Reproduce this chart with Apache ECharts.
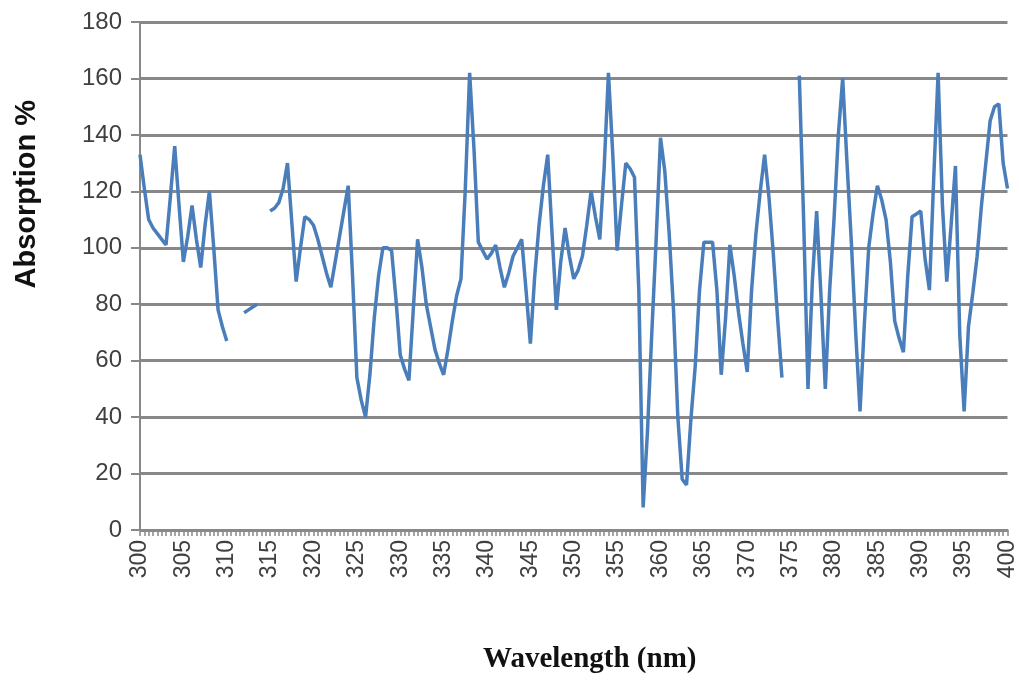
<!DOCTYPE html>
<html>
<head>
<meta charset="utf-8">
<script src="https://cdn.jsdelivr.net/npm/echarts@6/dist/echarts.min.js"></script>
<style>
  html, body { margin: 0; padding: 0; background: #fff; }
  #main { width: 1019px; height: 681px; }
</style>
</head>
<body>
<div id="main"></div>
<script>
// wavelength steps 300..400 nm every 0.5 nm
var wavelengths = [];
for (var w = 300; w <= 400; w += 0.5) wavelengths.push(String(w));

// absorption %, rows of 5 nm (10 points each), null = gap in the curve
var absorption = [
  133, 121, 110, 107, 105, 103, 101, 118, 136, 115,   // 300
  95, 104, 115, 103, 93, 108, 120, 100, 78, 72,       // 305
  67, null, null, null, 77, 78, 79, 80, null, null,   // 310
  113, 114, 116, 121, 130, 109, 88, 100, 111, 110,    // 315
  108, 103, 97, 91, 86, 95, 104, 113, 122, 90,        // 320
  54, 46, 40, 55, 75, 90, 100, 100, 99, 82,           // 325
  62, 57, 53, 78, 103, 93, 80, 72, 64, 59,            // 330
  55, 64, 74, 83, 89, 121, 162, 135, 102, 99,         // 335
  96, 98, 101, 93, 86, 91, 97, 100, 103, 85,          // 340
  66, 90, 108, 122, 133, 105, 78, 95, 107, 97,        // 345
  89, 92, 97, 108, 120, 111, 103, 128, 162, 133,      // 350
  99, 115, 130, 128, 125, 85, 8, 35, 70, 103,         // 355
  139, 127, 105, 78, 40, 18, 16, 39, 58, 85,          // 360
  102, 102, 102, 85, 55, 75, 101, 90, 77, 66,         // 365
  56, 85, 105, 120, 133, 118, 98, 75, 54, null,       // 370
  null, null, 161, 110, 50, 88, 113, 83, 50, 85,      // 375
  110, 140, 160, 130, 102, 70, 42, 73, 100, 112,      // 380
  122, 117, 110, 95, 74, 68, 63, 90, 111, 112,        // 385
  113, 96, 85, 125, 162, 115, 88, 108, 129, 69,       // 390
  42, 72, 84, 97, 115, 130, 145, 150, 151, 130,       // 395
  121                                                 // 400
];

var yTicks = { min: 0, max: 180, step: 20 };

var myChart = echarts.init(document.getElementById('main'));
var option = {
  animation: false,
  backgroundColor: '#fff',
  grid: { left: 140, right: 11, top: 22, bottom: 151 },
  xAxis: {
    type: 'category',
    boundaryGap: false,
    data: wavelengths,
    axisLine: { lineStyle: { color: '#888', width: 2 } },
    axisTick: { interval: 0, length: 6, lineStyle: { color: '#888', width: 1.5 } },
    axisLabel: {
      interval: 9, rotate: 90, margin: 10,
      fontFamily: 'Liberation Sans, Arial', fontSize: 23, color: '#404040'
    },
    splitLine: { show: false }
  },
  yAxis: {
    type: 'value',
    min: yTicks.min, max: yTicks.max, interval: yTicks.step,
    axisLine: { show: true, lineStyle: { color: '#888', width: 2 } },
    axisTick: { show: true, length: 9, lineStyle: { color: '#888', width: 2 } },
    axisLabel: {
      margin: 18,
      fontFamily: 'Liberation Sans, Arial', fontSize: 24, color: '#404040'
    },
    splitLine: { lineStyle: { color: '#888', width: 3 } }
  },
  graphic: [
    {
      type: 'text', left: 12, top: 100, rotation: Math.PI / 2,
      style: {
        text: 'Absorption %', font: 'bold 29px "Liberation Sans", Arial',
        fill: '#111'
      }
    },
    {
      type: 'text', left: 483, top: 645,
      style: {
        text: 'Wavelength (nm)', font: 'bold 29px "Liberation Serif", "Times New Roman"',
        fill: '#111'
      }
    }
  ],
  series: [
    {
      type: 'line',
      data: absorption,
      showSymbol: false,
      connectNulls: false,
      lineStyle: { color: '#4a7ebb', width: 3.5 },
      itemStyle: { color: '#4a7ebb' }
    }
  ]
};
myChart.setOption(option);
</script>
</body>
</html>
